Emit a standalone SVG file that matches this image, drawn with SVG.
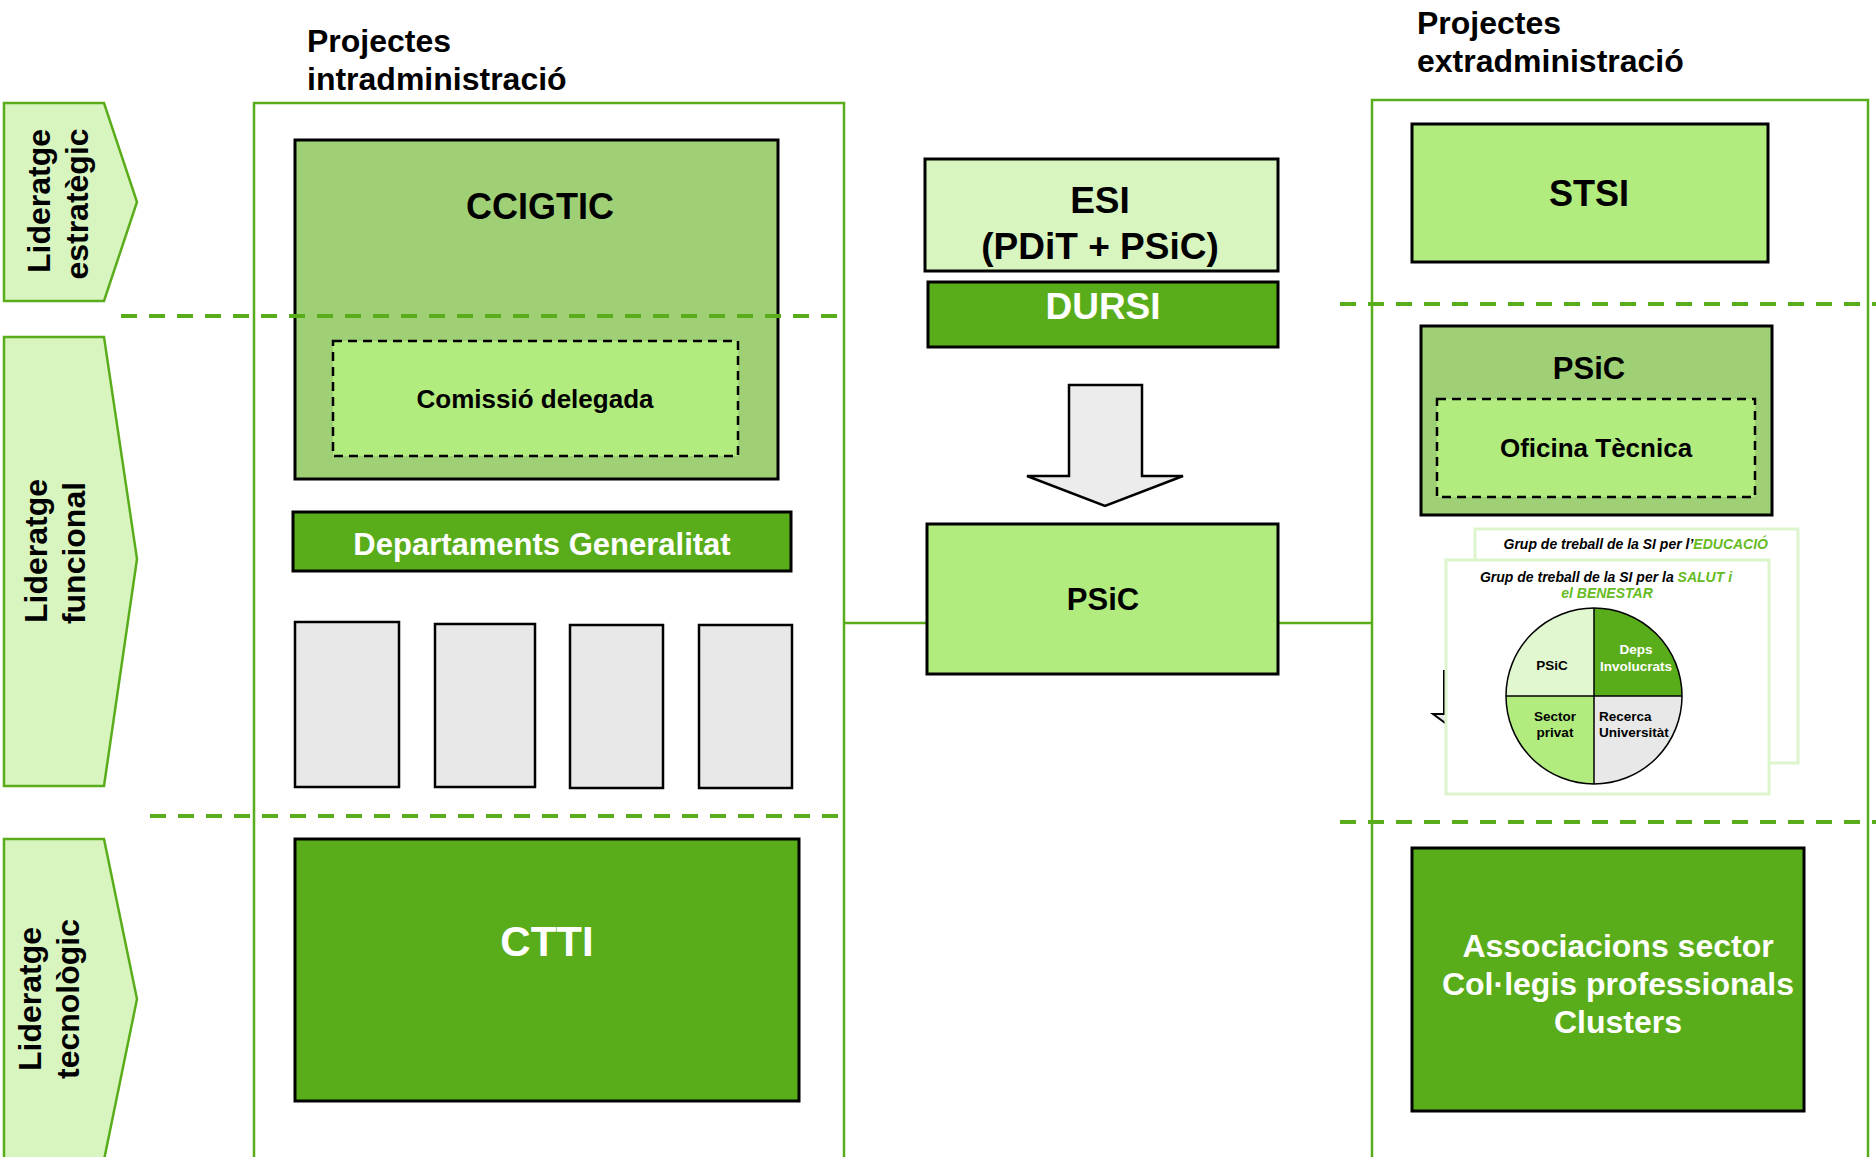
<svg xmlns="http://www.w3.org/2000/svg" width="1876" height="1157" viewBox="0 0 1876 1157">
<style>
text{font-family:"Liberation Sans",Arial,sans-serif;font-weight:bold;}
.c{text-anchor:middle;}
.w{fill:#ffffff;}
.k{fill:#000000;}
.box{stroke:#000;stroke-width:3;}
.dk{fill:#5aad1a;}
.md{fill:#a0d075;}
.lt{fill:#b2ec7e;}
.pl{fill:#d8f5c0;}
.gr{fill:#e8e8e8;stroke:#000;stroke-width:2.5;}
.dash{fill:#b2ec7e;stroke:#000;stroke-width:2.5;stroke-dasharray:9 6;}
.pent{fill:#d8f5c0;stroke:#5aad1a;stroke-width:2.5;}
.cont{fill:none;stroke:#5aad1a;stroke-width:2.5;}
.sep{stroke:#5aad1a;stroke-width:4;stroke-dasharray:16 12;fill:none;}
.card{fill:#fff;stroke:#dcf5cc;stroke-width:3;}
.it{font-style:italic;font-size:14px;}
.g{fill:#66bb22;}
.pie{font-size:13.5px;}
.hd{font-size:32px;}
</style>

<!-- side labels -->
<g id="lid-estrategic">
<polygon class="pent" points="4,103 104,103 137,202 104,301 4,301"/>
<text class="c" font-size="32" transform="translate(50,201) rotate(-90)">Lideratge</text>
<text class="c" font-size="32" transform="translate(88,204) rotate(-90)">estratègic</text>
</g>
<g id="lid-funcional">
<polygon class="pent" points="4,337 104,337 137,559 104,786 4,786"/>
<text class="c" font-size="32" transform="translate(47,551) rotate(-90)">Lideratge</text>
<text class="c" font-size="32" transform="translate(85,553) rotate(-90)">funcional</text>
</g>
<g id="lid-tecnologic">
<polygon class="pent" points="4,839 104,839 137,999 104,1160 4,1160"/>
<text class="c" font-size="32" transform="translate(41,999) rotate(-90)">Lideratge</text>
<text class="c" font-size="32" transform="translate(79,999) rotate(-90)">tecnològic</text>
</g>

<!-- containers -->
<g id="intra">
<rect class="cont" x="254" y="103" width="590" height="1070"/>
<text class="hd" x="307" y="52">Projectes</text>
<text class="hd" x="307" y="90">intradministració</text>
</g>
<g id="extra">
<rect class="cont" x="1372" y="100" width="496" height="1070"/>
<text class="hd" x="1417" y="34">Projectes</text>
<text class="hd" x="1417" y="72">extradministració</text>
</g>

<!-- connectors -->
<g id="connectors">
<line x1="844" y1="623" x2="927" y2="623" stroke="#5aad1a" stroke-width="2.5"/>
<line x1="1278" y1="623" x2="1372" y2="623" stroke="#5aad1a" stroke-width="2.5"/>
<polygon points="1069,385 1142,385 1142,476 1183,476 1105,506 1027,476 1069,476" fill="#ececec" stroke="#000" stroke-width="2.5"/>
</g>

<!-- left nodes -->
<g id="ccigtic">
<rect class="box md" x="295" y="140" width="483" height="339"/>
<text class="c" font-size="36" x="540" y="219">CCIGTIC</text>
</g>
<g id="comissio">
<rect class="dash" x="333" y="341" width="405" height="115"/>
<text class="c" font-size="26" x="535" y="408">Comissió delegada</text>
</g>
<g id="departaments">
<rect class="box dk" x="293" y="512" width="498" height="59"/>
<text class="c w" font-size="31" x="542" y="555">Departaments Generalitat</text>
</g>
<g id="dep1"><rect class="gr" x="295" y="622" width="104" height="165"/></g>
<g id="dep2"><rect class="gr" x="435" y="624" width="100" height="163"/></g>
<g id="dep3"><rect class="gr" x="570" y="625" width="93" height="163"/></g>
<g id="dep4"><rect class="gr" x="699" y="625" width="93" height="163"/></g>
<g id="ctti">
<rect class="box dk" x="295" y="839" width="504" height="262"/>
<text class="c w" font-size="42" x="547" y="956">CTTI</text>
</g>

<!-- middle nodes -->
<g id="esi">
<rect class="box pl" x="925" y="159" width="353" height="112"/>
<text class="c" font-size="37" x="1100" y="213">ESI</text>
<text class="c" font-size="37" x="1100" y="259">(PDiT + PSiC)</text>
</g>
<g id="dursi">
<rect class="box dk" x="928" y="282" width="350" height="65"/>
<text class="c w" font-size="37" x="1103" y="319">DURSI</text>
</g>
<g id="psic-mid">
<rect class="box lt" x="927" y="524" width="351" height="150"/>
<text class="c" font-size="31" x="1103" y="610">PSiC</text>
</g>

<!-- right nodes -->
<g id="stsi">
<rect class="box lt" x="1412" y="124" width="356" height="138"/>
<text class="c" font-size="36" x="1589" y="206">STSI</text>
</g>
<g id="psic-right">
<rect class="box md" x="1421" y="326" width="351" height="189"/>
<text class="c" font-size="31" x="1589" y="379">PSiC</text>
</g>
<g id="oficina">
<rect class="dash" x="1437" y="399" width="318" height="98"/>
<text class="c" font-size="26" x="1596" y="457">Oficina Tècnica</text>
</g>

<g id="grup-educacio">
<rect class="card" x="1475" y="529" width="323" height="234"/>
<text class="it" x="1768" y="549" text-anchor="end">Grup de treball de la SI per l’<tspan class="g">EDUCACIÓ</tspan></text>
</g>
<g id="arrow-remnant">
<path d="M1444,670 L1444,714 L1433,714 L1452,728" fill="#e8e8e8" stroke="#000" stroke-width="2"/>
</g>
<g id="grup-salut">
<rect class="card" x="1446" y="560" width="323" height="234"/>
<text class="it c" x="1606" y="582">Grup de treball de la SI per la <tspan class="g">SALUT i</tspan></text>
<text class="it c g" x="1607" y="598">el BENESTAR</text>
<path d="M1594,696 L1594,608 A88,88 0 0 0 1506,696 Z" fill="#e0f7d0"/>
<path d="M1594,696 L1682,696 A88,88 0 0 0 1594,608 Z" fill="#5aad1a"/>
<path d="M1594,696 L1506,696 A88,88 0 0 0 1594,784 Z" fill="#b2ec7e"/>
<path d="M1594,696 L1594,784 A88,88 0 0 0 1682,696 Z" fill="#e8e8e8"/>
<circle cx="1594" cy="696" r="88" fill="none" stroke="#000" stroke-width="1.5"/>
<line x1="1506" y1="696" x2="1682" y2="696" stroke="#000" stroke-width="1.5"/>
<line x1="1594" y1="608" x2="1594" y2="784" stroke="#000" stroke-width="1.5"/>
<text class="pie c" x="1552" y="670">PSiC</text>
<text class="pie c w" x="1636" y="654">Deps</text>
<text class="pie c w" x="1636" y="671">Involucrats</text>
<text class="pie c" x="1555" y="721">Sector</text>
<text class="pie c" x="1555" y="737">privat</text>
<text class="pie" x="1599" y="721">Recerca</text>
<text class="pie" x="1599" y="737">Universitàt</text>
</g>

<g id="associacions">
<rect class="box dk" x="1412" y="848" width="392" height="263"/>
<text class="c w" font-size="32" x="1618" y="957">Associacions sector</text>
<text class="c w" font-size="32" x="1618" y="995">Col·legis professionals</text>
<text class="c w" font-size="32" x="1618" y="1033">Clusters</text>
</g>

<!-- level separators -->
<g id="separators">
<line class="sep" x1="121" y1="316" x2="840" y2="316"/>
<line class="sep" x1="150" y1="816" x2="840" y2="816"/>
<line class="sep" x1="1340" y1="304" x2="1876" y2="304"/>
<line class="sep" x1="1340" y1="822" x2="1876" y2="822"/>
</g>
</svg>
